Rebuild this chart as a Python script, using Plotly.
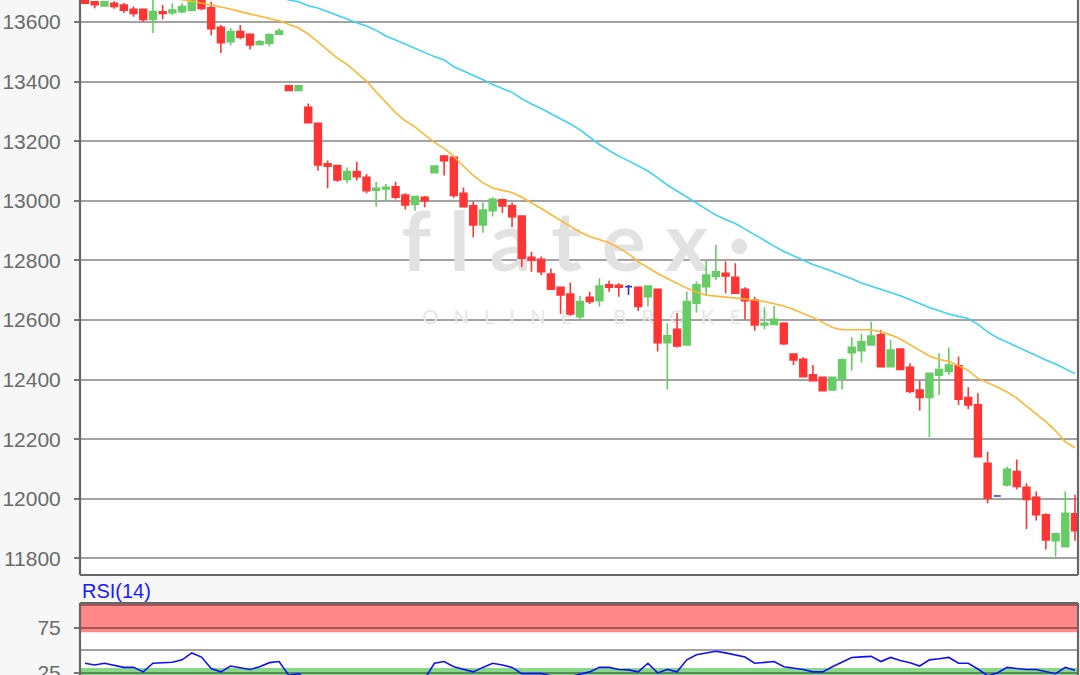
import plotly.graph_objects as go

# ---------------- data ----------------
opens = [13674, 13668, 13654, 13663, 13657, 13643, 13643, 13609, 13634, 13631,
         13635, 13640, 13672, 13648, 13582, 13534, 13568, 13559, 13525, 13529,
         13559, 13386, 13370, 13314, 13260, 13124, 13118, 13072, 13098, 13079,
         13036, 13040, 13047, 13019, 12989, 13012, 13094, 13150, 13146, 13025,
         12983, 12919, 12967, 13003, 12983, 12949, 12810, 12804, 12754, 12710,
         12687, 12611, 12676, 12665, 12718, 12716, 12712, 12710, 12678, 12703,
         12524, 12569, 12516, 12656, 12712, 12746, 12757, 12743, 12703, 12667,
         12583, 12585, 12589, 12486, 12468, 12416, 12408, 12365, 12404, 12490,
         12497, 12516, 12550, 12443, 12502, 12441, 12365, 12340, 12415, 12427,
         12446, 12340, 12315, 12119, 12009, 12046, 12091, 12038, 12005, 11946,
         11859, 11839, 11949]
highs = [13680, 13670, 13670, 13670, 13664, 13652, 13645, 13690, 13657, 13663,
         13663, 13680, 13685, 13668, 13590, 13580, 13590, 13562, 13540, 13562,
         13578, 13388, 13388, 13327, 13262, 13135, 13120, 13112, 13131, 13090,
         13064, 13056, 13064, 13025, 13016, 13016, 13118, 13154, 13150, 13045,
         12997, 12994, 13012, 13008, 12994, 12951, 12829, 12813, 12773, 12712,
         12725, 12681, 12695, 12740, 12732, 12723, 12717, 12712, 12716, 12705,
         12589, 12623, 12695, 12729, 12801, 12852, 12796, 12790, 12710, 12678,
         12643, 12647, 12592, 12488, 12475, 12449, 12410, 12410, 12471, 12542,
         12553, 12594, 12566, 12533, 12505, 12455, 12396, 12421, 12488, 12508,
         12477, 12374, 12354, 12158, 12010, 12108, 12132, 12052, 12024, 11951,
         11885, 12024, 12013]
lows = [13660, 13646, 13652, 13645, 13630, 13618, 13601, 13563, 13609, 13624,
        13630, 13636, 13640, 13556, 13496, 13521, 13542, 13508, 13521, 13518,
        13559, 13368, 13368, 13260, 13101, 13042, 13064, 13059, 13068, 13025,
        12980, 12997, 13005, 12971, 12967, 12978, 13093, 13085, 13010, 12978,
        12878, 12893, 12947, 12960, 12911, 12777, 12762, 12751, 12701, 12620,
        12614, 12602, 12654, 12645, 12695, 12678, 12684, 12630, 12645, 12494,
        12367, 12508, 12516, 12625, 12684, 12734, 12690, 12690, 12602, 12564,
        12569, 12585, 12516, 12449, 12410, 12396, 12360, 12363, 12367, 12430,
        12457, 12516, 12443, 12443, 12434, 12354, 12296, 12206, 12348, 12415,
        12315, 12300, 12141, 11985, 12008, 12041, 12032, 11898, 11927, 11830,
        11806, 11837, 11859]
closes = [13663, 13658, 13668, 13652, 13640, 13629, 13609, 13635, 13629, 13640,
          13652, 13672, 13646, 13578, 13531, 13568, 13549, 13523, 13534, 13557,
          13570, 13370, 13386, 13262, 13120, 13116, 13070, 13098, 13081, 13034,
          13042, 13045, 13012, 12986, 13014, 13000, 13117, 13135, 13018, 12980,
          12919, 12969, 13005, 12983, 12947, 12807, 12801, 12762, 12703, 12684,
          12620, 12662, 12662, 12714, 12710, 12710, 12712, 12645, 12714, 12524,
          12547, 12513, 12662, 12718, 12751, 12762, 12748, 12690, 12665, 12583,
          12589, 12602, 12520, 12466, 12410, 12396, 12363, 12408, 12466, 12508,
          12527, 12546, 12443, 12499, 12434, 12360, 12340, 12421, 12434, 12449,
          12334, 12315, 12141, 12002, 12009, 12099, 12041, 11998, 11946, 11862,
          11882, 11951, 11893]

# fast moving average (orange), candles 9..102
ma_fast_start = 9
ma_fast = [13681, 13674, 13669, 13664, 13658, 13651, 13644, 13635, 13628, 13620,
           13612, 13604, 13593, 13580, 13560, 13532, 13506, 13479, 13458, 13430,
           13402, 13365, 13329, 13296, 13268, 13248, 13221, 13196, 13176, 13149,
           13116, 13085, 13060, 13043, 13035, 13028, 13012, 12994, 12974, 12954,
           12935, 12915, 12895, 12880, 12870, 12859, 12842, 12822, 12796, 12776,
           12756, 12739, 12723, 12707, 12694, 12683, 12680, 12677, 12674, 12671,
           12667, 12662, 12655, 12647, 12635, 12622, 12608, 12592, 12575, 12567,
           12567, 12567, 12567, 12560, 12550, 12536, 12518, 12498, 12479, 12467,
           12461, 12447, 12431, 12404, 12390, 12375, 12358, 12338, 12311, 12285,
           12259, 12228, 12191, 12171]

# slow moving average (cyan), candles 20..102
ma_slow_start = 20
ma_slow = [13684, 13674, 13668, 13655, 13647, 13634, 13621, 13610, 13598, 13587,
           13572, 13553, 13540, 13526, 13511, 13496, 13484, 13473, 13450, 13436,
           13422, 13406, 13390, 13377, 13364, 13343, 13325, 13310, 13293, 13276,
           13258, 13238, 13212, 13189, 13169, 13150, 13134, 13117, 13100, 13077,
           13053, 13033, 13013, 12991, 12971, 12952, 12937, 12924, 12905, 12885,
           12867, 12848, 12830, 12815, 12800, 12786, 12775, 12763, 12751, 12738,
           12724, 12714, 12704, 12692, 12681, 12667, 12655, 12642, 12630, 12620,
           12612, 12605, 12585, 12560, 12540, 12525, 12511, 12496, 12479, 12466,
           12452, 12436, 12420]

# RSI(14), one value per candle
rsi = [35.4, 33.5, 35.4, 33.5, 30.8, 30.8, 25.8, 35.4, 35.9, 36.5,
       39.2, 46.9, 42.3, 29.6, 25.8, 32.3, 30.4, 28.5, 31.5, 36.1,
       37.3, 21.9, 23.8, 16.0, 12.0, 11.0, 10.0, 12.0, 11.0, 10.0,
       11.0, 12.0, 10.0, 9.0, 11.0, 18.0, 35.4, 37.3, 31.5, 28.5,
       25.8, 30.8, 35.4, 33.5, 30.8, 23.8, 23.8, 23.8, 21.5, 20.2,
       20.6, 23.0, 25.8, 30.8, 30.8, 28.5, 28.0, 25.8, 35.4, 24.6,
       28.5, 25.8, 39.2, 45.0, 47.0, 48.8, 47.0, 45.0, 42.3, 35.4,
       36.5, 37.3, 31.5, 30.0, 28.5, 25.8, 25.8, 31.5, 37.0, 41.9,
       42.5, 43.1, 37.3, 41.9, 38.5, 36.0, 32.3, 39.2, 40.5, 41.9,
       35.4, 35.4, 29.0, 21.5, 24.5, 30.8, 29.5, 28.5, 28.5, 26.0,
       23.8, 30.8, 27.7]

price_ticks = [11800, 12000, 12200, 12400, 12600, 12800, 13000, 13200, 13400, 13600]
rsi_label_ticks = [25, 75]
rsi_grid_only = [50, 100]
rsi_label = "RSI(14)"
NB = "\u00a0"
watermark_main = "f l a t e x ·"
watermark_sub = (NB * 3).join("ONLINE") + NB * 8 + (NB * 3).join("BROKER")

# ---------------- styling ----------------
RED = "#ff3535"
GREEN = "#66cc66"
BLUE = "#3a2fd0"
GRID = "rgba(0,0,0,0.36)"
BORDER = "#666666"
TICKFONT = dict(family="Liberation Sans, Arial, sans-serif", size=21, color="#6a6a6a")

n = len(opens)
idx = list(range(n))
inc = [i for i in idx if closes[i] > opens[i]]
dec = [i for i in idx if closes[i] < opens[i]]
doji = [i for i in idx if closes[i] == opens[i]]


def candle(sel, color, name):
    return go.Candlestick(
        x=sel,
        open=[opens[i] for i in sel], high=[highs[i] for i in sel],
        low=[lows[i] for i in sel], close=[closes[i] for i in sel],
        increasing=dict(line=dict(color=color, width=1.6), fillcolor=color),
        decreasing=dict(line=dict(color=color, width=1.6), fillcolor=color),
        whiskerwidth=0, name=name, showlegend=False, hoverinfo="skip",
        xaxis="x", yaxis="y2",
    )


fig = go.Figure()

# watermark on the base (hidden) axis so that it sits under the candles
fig.add_trace(go.Scatter(
    x=[50.6], y=[0.565], mode="text", text=[watermark_main],
    textfont=dict(family="Lato, Open Sans, sans-serif", size=82, color="#e2e2e2",
                  weight="bold"),
    xaxis="x", yaxis="y", hoverinfo="skip", showlegend=False))
fig.add_trace(go.Scatter(
    x=[52.6], y=[0.446], mode="text", text=[watermark_sub],
    textfont=dict(family="Lato, Open Sans, sans-serif", size=20, color="#e6e6e6"),
    xaxis="x", yaxis="y", hoverinfo="skip", showlegend=False))

fig.add_trace(candle(dec, RED, "down"))
fig.add_trace(candle(inc, GREEN, "up"))
fig.add_trace(candle(doji, BLUE, "flat"))

fig.add_trace(go.Scatter(
    x=list(range(ma_fast_start, ma_fast_start + len(ma_fast))), y=ma_fast,
    mode="lines", line=dict(color="#ffb733", width=1.6),
    xaxis="x", yaxis="y2", hoverinfo="skip", showlegend=False))
fig.add_trace(go.Scatter(
    x=list(range(ma_slow_start, ma_slow_start + len(ma_slow))), y=ma_slow,
    mode="lines", line=dict(color="#3dd3f5", width=1.6),
    xaxis="x", yaxis="y2", hoverinfo="skip", showlegend=False))

fig.add_trace(go.Scatter(
    x=idx, y=rsi, mode="lines", line=dict(color="#1010ff", width=1.6),
    xaxis="x2", yaxis="y3", hoverinfo="skip", showlegend=False))

main_bottom = 100 / 675
rsi_top = 72 / 675
xr = [-0.515, 102.31]

fig.update_layout(
    width=1080, height=675,
    margin=dict(l=80, r=2, t=0, b=0, autoexpand=False),
    paper_bgcolor="#f7f7f7", plot_bgcolor="#ffffff",
    boxgap=0.3, boxgroupgap=0,
    showlegend=False,
    xaxis=dict(domain=[0, 1], range=xr, anchor="y", showticklabels=False,
               showgrid=False, zeroline=False, ticks="", automargin=False,
               rangeslider=dict(visible=False)),
    yaxis=dict(domain=[main_bottom, 1], range=[0, 1], visible=False,
               showgrid=False, zeroline=False, automargin=False),
    yaxis2=dict(overlaying="y", anchor="x", side="left",
                range=[11744, 13674], tickvals=price_ticks, tickformat="d",
                showgrid=True, gridcolor=GRID, gridwidth=1.5, zeroline=False,
                ticks="outside", ticklen=5, tickwidth=1.5, tickcolor="#777",
                ticklabelstandoff=9, tickfont=TICKFONT, automargin=False),
    xaxis2=dict(domain=[0, 1], range=xr, anchor="y3", matches="x",
                showticklabels=False, showgrid=False, zeroline=False, ticks="",
                automargin=False),
    yaxis3=dict(domain=[0, rsi_top], anchor="x2", range=[22.3, 102.7],
                tickvals=rsi_label_ticks, tickformat="d", showgrid=True,
                gridcolor=GRID, gridwidth=1.5, zeroline=False,
                ticks="outside", ticklen=5, tickwidth=1.5, tickcolor="#777",
                ticklabelstandoff=9, tickfont=TICKFONT, automargin=False,
                ticklabeloverflow="allow",
                minor=dict(tickvals=rsi_grid_only, showgrid=True,
                           gridcolor=GRID, gridwidth=1.5, ticks="")),
    annotations=[dict(text=rsi_label, x=0, xref="paper", xanchor="left",
                      y=(675 - 591) / 675, yref="paper", yanchor="middle",
                      showarrow=False,
                      font=dict(family="Liberation Sans, Arial, sans-serif",
                                size=20, color="#1a1aff"))],
    shapes=[
        # RSI zones
        dict(type="rect", xref="x2 domain", yref="y3", x0=0, x1=1, y0=70, y1=102.7,
             fillcolor="#ff8888", line=dict(width=0), layer="below"),
        dict(type="rect", xref="x2 domain", yref="y3", x0=0, x1=1, y0=0, y1=30,
             fillcolor="#88d888", line=dict(width=0), layer="below"),
        # borders of the main panel
        dict(type="line", xref="paper", yref="paper", x0=0, x1=0, y0=main_bottom, y1=1,
             line=dict(color=BORDER, width=2.2), layer="above"),
        dict(type="line", xref="paper", yref="paper", x0=1, x1=1, y0=main_bottom, y1=1,
             line=dict(color=BORDER, width=2.2), layer="above"),
        dict(type="line", xref="paper", yref="paper", x0=0, x1=1, y0=main_bottom, y1=main_bottom,
             line=dict(color=BORDER, width=2.2), layer="above"),
        # borders of the RSI panel
        dict(type="line", xref="paper", yref="paper", x0=0, x1=0, y0=0, y1=rsi_top,
             line=dict(color=BORDER, width=2.2), layer="above"),
        dict(type="line", xref="paper", yref="paper", x0=1, x1=1, y0=0, y1=rsi_top,
             line=dict(color=BORDER, width=2.2), layer="above"),
        dict(type="line", xref="paper", yref="paper", x0=0, x1=1, y0=rsi_top, y1=rsi_top,
             line=dict(color=BORDER, width=2.2), layer="above"),
    ],
)

fig.write_html(
    "out.html",
    config={"displayModeBar": False},
    post_script="document.body.style.margin='0';document.body.style.overflow='hidden';",
)
